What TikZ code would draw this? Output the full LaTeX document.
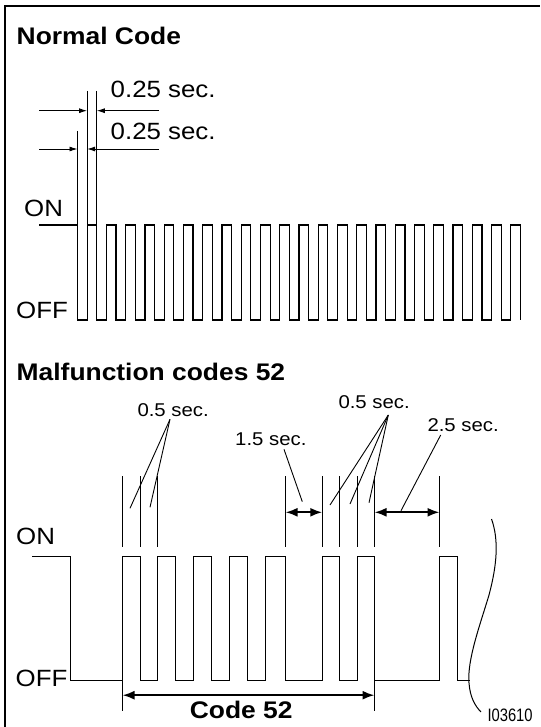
\documentclass[tikz,border=0pt]{standalone}
\usepackage{fontspec}
\setmainfont{Liberation Sans}[FakeStretch=1.1]
\newfontfamily\idf{Liberation Sans}[FakeStretch=0.82]
\usetikzlibrary{arrows.meta}
\tikzset{
  lbl/.style={inner sep=0pt, anchor=base west, font=\fontsize{23.5}{26}\selectfont},
  ttl/.style={inner sep=0pt, anchor=base west, font=\fontsize{24}{28}\selectfont\bfseries},
  sml/.style={inner sep=0pt, anchor=base west, font=\fontsize{18.5}{22}\selectfont},
  idl/.style={inner sep=0pt, anchor=base west, font=\idf\fontsize{18}{20}\selectfont},
  wave/.style={line width=1.2pt, line join=miter},
  ext/.style={line width=1pt},
  lead/.style={line width=0.9pt},
  thinarr/.style={line width=0.9pt, -{Latex[length=8pt,width=5pt]}},
  thickarr/.style={line width=2pt, {Latex[length=12pt,width=9pt]}-{Latex[length=12pt,width=9pt]}},
  framel/.style={line width=2.4pt}
}
\begin{document}
\begin{tikzpicture}[x=1pt,y=-1pt]
\useasboundingbox (0,0) rectangle (540,727);
% frame
\draw[framel] (5,727) -- (5,6) -- (540,6);

% ---------- Normal Code ----------
\node[ttl] (t1) at (16.5,44.5) {Normal Code};
\node[lbl] (s1a) at (110.5,97.5) {0.25 sec.};
\node[lbl] (s1b) at (110.5,139.5) {0.25 sec.};
\node[lbl] (on1) at (24,216.7) {ON};
\node[lbl] (off1) at (16,318.3) {OFF};

% extension lines
\draw[ext] (77.5,131) -- (77.5,225);
\draw[ext] (87.13,91) -- (87.13,225);
\draw[ext] (96.76,91) -- (96.76,225);
% dimension arrows
\draw[thinarr] (39,110.7) -- (87.13,110.7);
\draw[thinarr] (159,110.7) -- (96.76,110.7);
\draw[thinarr] (39,149) -- (77.5,149);
\draw[thinarr] (159,149) -- (87.13,149);

% waveform
\draw[wave] (39,225) -- (77.5,225) -- (77.5,320)
  \foreach \k in {0,...,22} {
    -- ({77.5+(2*\k+1)*9.63},320) -- ({77.5+(2*\k+1)*9.63},225)
    -- ({77.5+(2*\k+2)*9.63},225) -- ({77.5+(2*\k+2)*9.63},320)
  };

% ---------- Malfunction codes 52 ----------
\node[ttl] (t2) at (16.5,380) {Malfunction codes 52};
\node[sml] (h1) at (137.3,416) {0.5 sec.};
\node[sml] (h2) at (338.3,408.3) {0.5 sec.};
\node[sml] (h3) at (235,445) {1.5 sec.};
\node[sml] (h4) at (427.3,431.7) {2.5 sec.};
\node[lbl] (on2) at (16,544) {ON};
\node[lbl] (off2) at (15.5,686) {OFF};

% extension lines
\foreach \xx in {122.5,140,157,285.5,322.3,339.5,357,374.5,439.5}
  \draw[ext] (\xx,476) -- (\xx,546.7);

% leaders
\draw[lead] (170,419.3) -- (130,508.3);
\draw[lead] (170,419.3) -- (150,507.3);
\draw[lead] (388.3,415) -- (330,505);
\draw[lead] (388.3,415) -- (350,504);
\draw[lead] (388.3,415) -- (369,502.7);
\draw[lead] (284,449.3) -- (302.3,501.7);
\draw[lead] (440.7,435) -- (401,510.7);

% dimension arrows
\draw[thickarr] (285.5,512.3) -- (322.3,512.3);
\draw[thickarr] (374.5,512.3) -- (439.5,512.3);

% waveform
\draw[ext] (32.3,556.7) -- (70,556.7) -- (70,680.7) -- (122.5,680.7)
  -- (122.5,556.7) -- (140,556.7) -- (140,680.7)
  -- (157,680.7) -- (157,556.7) -- (175.3,556.7) -- (175.3,680.7)
  -- (193.5,680.7) -- (193.5,556.7) -- (211.7,556.7) -- (211.7,680.7)
  -- (229,680.7) -- (229,556.7) -- (247.5,556.7) -- (247.5,680.7)
  -- (265.5,680.7) -- (265.5,556.7) -- (285.5,556.7) -- (285.5,680.7)
  -- (322.3,680.7) -- (322.3,556.7) -- (339.5,556.7) -- (339.5,680.7)
  -- (357,680.7) -- (357,556.7) -- (374.5,556.7) -- (374.5,680.7)
  -- (439.5,680.7) -- (439.5,556.7) -- (457,556.7) -- (457,680.7)
  -- (470,680.7);
\draw[ext] (122.5,680.7) -- (122.5,710.7);
\draw[ext] (374.5,680.7) -- (374.5,710.7);
\draw[thickarr] (122.5,695.2) -- (374.5,695.2);
\node[ttl] (code) at (189.7,718.6) {Code 52};

% break curve
\draw[ext] (491.5,519) .. controls (499,540) and (497,565) .. (489,595)
  .. controls (480,625) and (467,660) .. (469,683)
  .. controls (470,697) and (475,706) .. (481,712);
\node[idl] (id) at (487.3,721.7) {I03610};
\end{tikzpicture}
\end{document}
